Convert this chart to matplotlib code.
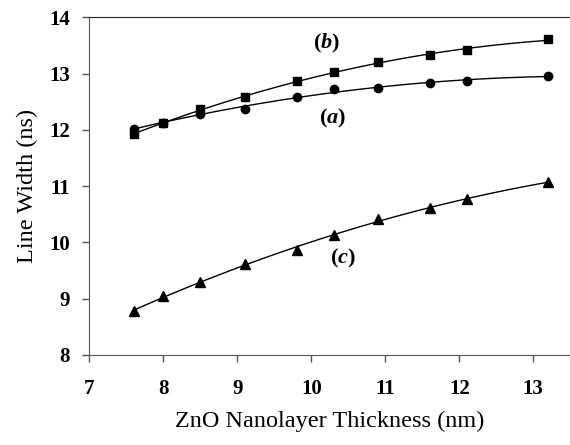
import numpy as np
import matplotlib
matplotlib.use("Agg")
import matplotlib.pyplot as plt

plt.rcParams['font.family'] = ['Liberation Serif', 'DejaVu Serif']
plt.rcParams['mathtext.fontset'] = 'custom'
plt.rcParams['mathtext.rm'] = 'Liberation Serif:bold'
plt.rcParams['mathtext.it'] = 'Liberation Serif:bold:italic'

# ZnO nanolayer thickness (nm)
thickness = [7.6, 8.0, 8.5, 9.1, 9.8, 10.3, 10.9, 11.6, 12.1, 13.2]
# line width (ns) for the three curves
width_a = [12.02, 12.13, 12.29, 12.37, 12.58, 12.72, 12.75, 12.83, 12.87, 12.96]
width_b = [11.92, 12.12, 12.37, 12.59, 12.87, 13.02, 13.20, 13.33, 13.42, 13.61]
width_c = [8.79, 9.04, 9.29, 9.61, 9.87, 10.14, 10.42, 10.61, 10.77, 11.07]

fig = plt.figure(figsize=(5.7, 4.45), dpi=100)
ax = fig.add_axes([89.3 / 570, 1 - 355 / 445, 1 - 89.3 / 570, (355 - 17.3) / 445])

xs = np.linspace(min(thickness), max(thickness), 200)
for y, mk, ms in [(width_a, 'o', 6), (width_b, 's', 6), (width_c, '^', 7)]:
    # smooth trendline through the points (2nd order fit)
    p = np.polyfit(thickness, y, 2)
    ax.plot(xs, np.polyval(p, xs), color='black', lw=1.0)
    ax.plot(thickness, y, ls='none', marker=mk, ms=ms, color='black')

ax.set_xlim(7, 7 + (570 - 89.3) / 74)
ax.set_ylim(8, 14)
ax.set_xticks([7, 8, 9, 10, 11, 12, 13])
ax.set_yticks([8, 9, 10, 11, 12, 13, 14])

ax.spines['right'].set_visible(False)
ax.spines['left'].set_color('#555555')
ax.spines['bottom'].set_color('#555555')
ax.spines['top'].set_color('#222222')
ax.tick_params(direction='out', length=5, width=1, color='#555555', labelsize=15)
ax.tick_params(axis='x', pad=12)
ax.tick_params(axis='y', pad=9)
for lab in ax.get_xticklabels() + ax.get_yticklabels():
    lab.set_fontweight('bold')

ax.set_xlabel('ZnO Nanolayer Thickness (nm)', fontsize=17.5, labelpad=9)
ax.set_ylabel('Line Width (ns)', fontsize=17.5, labelpad=8)

ax.text(10.21, 13.53, r'$\mathrm{(}b\mathrm{)}$', fontsize=16, ha='center', va='center')
ax.text(10.28, 12.2, r'$\mathrm{(}a\mathrm{)}$', fontsize=16, ha='center', va='center')
ax.text(10.43, 9.71, r'$\mathrm{(}c\mathrm{)}$', fontsize=16, ha='center', va='center')

fig.savefig('out.png', dpi=100)
